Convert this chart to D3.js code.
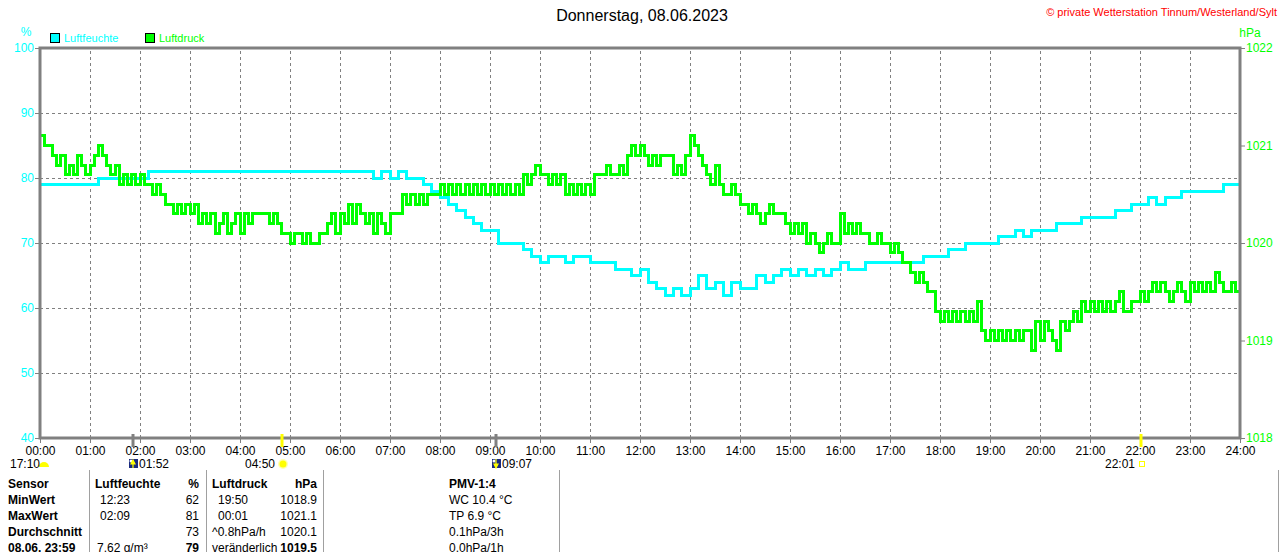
<!DOCTYPE html>
<html>
<head>
<meta charset="utf-8">
<script src="https://cdn.jsdelivr.net/npm/d3@7"></script>
<style>
  html, body { margin: 0; padding: 0; background: #fff; }
  svg { display: block; font-family: "Liberation Sans", Arial, sans-serif; }
  .grid line { stroke: #808080; stroke-dasharray: 3,3; shape-rendering: crispEdges; }
  .grid .domain { display: none; }
</style>
</head>
<body>
<svg id="chart" width="1280" height="552"></svg>
<script>
// --- data ---
const hourLabels = ["00:00","01:00","02:00","03:00","04:00","05:00","06:00","07:00","08:00","09:00","10:00","11:00","12:00",
  "13:00","14:00","15:00","16:00","17:00","18:00","19:00","20:00","21:00","22:00","23:00","24:00"];
const humidityTicks = [40, 50, 60, 70, 80, 90, 100];
const pressureTicks = [1018, 1019, 1020, 1021, 1022];

// Luftfeuchte %, one reading every 10 minutes (00:00 .. 24:00), one row per 2 hours
const humidityStepMin = 10;
const humidity = [
  79,79,79,79,79,79, 79,80,80,80,80,80,
  80,81,81,81,81,81, 81,81,81,81,81,81,
  81,81,81,81,81,81, 81,81,81,81,81,81,
  81,81,81,81,80,81, 80,81,80,80,79,78,
  77,76,75,74,73,72, 72,70,70,70,69,68,
  67,68,68,67,68,68, 67,67,67,66,66,65,
  66,64,63,62,63,62, 63,65,63,64,62,64,
  63,63,65,64,65,66, 65,66,65,66,65,66,
  67,66,66,67,67,67, 67,67,67,67,68,68,
  68,69,69,70,70,70, 70,71,71,72,71,72,
  72,72,73,73,73,74, 74,74,74,75,75,76,
  76,77,76,77,77,78, 78,78,78,78,79,79,
  79
];

// Luftdruck hPa, one reading every 5 minutes (00:00 .. 24:00), one row per hour
const pressureStepMin = 5;
const pressure = [
  1021.1,1021.0,1021.0,1020.9,1020.8,1020.9,1020.7,1020.8,1020.7,1020.9,1020.8,1020.7,
  1020.8,1020.9,1021.0,1020.9,1020.8,1020.7,1020.8,1020.6,1020.7,1020.6,1020.7,1020.6,
  1020.7,1020.6,1020.6,1020.5,1020.6,1020.5,1020.4,1020.4,1020.3,1020.4,1020.3,1020.4,
  1020.3,1020.4,1020.2,1020.3,1020.2,1020.3,1020.1,1020.2,1020.3,1020.1,1020.2,1020.3,
  1020.1,1020.3,1020.2,1020.3,1020.3,1020.3,1020.3,1020.2,1020.3,1020.2,1020.1,1020.1,
  1020.0,1020.1,1020.1,1020.0,1020.1,1020.0,1020.0,1020.1,1020.1,1020.2,1020.3,1020.1,
  1020.3,1020.2,1020.4,1020.2,1020.4,1020.3,1020.2,1020.3,1020.1,1020.3,1020.2,1020.1,
  1020.3,1020.3,1020.3,1020.5,1020.4,1020.5,1020.4,1020.5,1020.4,1020.5,1020.5,1020.5,
  1020.6,1020.5,1020.6,1020.5,1020.6,1020.5,1020.6,1020.5,1020.6,1020.5,1020.6,1020.5,
  1020.6,1020.5,1020.6,1020.5,1020.6,1020.5,1020.6,1020.5,1020.7,1020.6,1020.7,1020.8,
  1020.7,1020.7,1020.6,1020.7,1020.6,1020.7,1020.5,1020.6,1020.5,1020.6,1020.5,1020.6,
  1020.5,1020.7,1020.7,1020.7,1020.8,1020.7,1020.7,1020.8,1020.7,1020.9,1021.0,1020.9,
  1021.0,1020.9,1020.8,1020.9,1020.8,1020.9,1020.9,1020.9,1020.7,1020.8,1020.7,1020.9,
  1021.1,1021.0,1020.9,1020.8,1020.7,1020.6,1020.8,1020.6,1020.5,1020.5,1020.6,1020.5,
  1020.4,1020.4,1020.3,1020.4,1020.3,1020.2,1020.3,1020.4,1020.3,1020.3,1020.3,1020.2,
  1020.1,1020.2,1020.1,1020.2,1020.0,1020.1,1020.0,1019.9,1020.0,1020.1,1020.0,1020.0,
  1020.3,1020.1,1020.2,1020.1,1020.2,1020.1,1020.1,1020.0,1020.0,1020.1,1020.0,1020.0,
  1019.9,1020.0,1019.9,1019.8,1019.8,1019.7,1019.6,1019.7,1019.6,1019.5,1019.5,1019.3,
  1019.2,1019.3,1019.2,1019.3,1019.2,1019.3,1019.2,1019.3,1019.2,1019.4,1019.1,1019.0,
  1019.1,1019.0,1019.1,1019.0,1019.1,1019.0,1019.1,1019.0,1019.1,1019.1,1018.9,1019.2,
  1019.0,1019.2,1019.1,1019.0,1018.9,1019.2,1019.1,1019.2,1019.3,1019.2,1019.4,1019.3,
  1019.4,1019.3,1019.4,1019.3,1019.4,1019.3,1019.4,1019.5,1019.3,1019.3,1019.4,1019.4,
  1019.5,1019.4,1019.5,1019.6,1019.5,1019.6,1019.5,1019.4,1019.5,1019.6,1019.5,1019.4,
  1019.6,1019.5,1019.6,1019.5,1019.6,1019.5,1019.7,1019.6,1019.5,1019.5,1019.6,1019.5,
  1019.5
];

// sun / moon events below the time axis
const eventLabels  = ["17:10", "01:52", "04:50", "09:07", "22:01"];
const eventMinutes = [0, 112, 290, 547, 1321];
const eventKinds   = ["moonsetPrev", "moonrise", "sunrise", "moonset", "sunset"];

// summary table
const tableRowLabels = ["Sensor", "MinWert", "MaxWert", "Durchschnitt", "08.06. 23:59"];
const humTimes  = ["Luftfeuchte", "12:23", "02:09", "", "7.62 g/m³"];
const humVals   = ["%", "62", "81", "73", "79"];
const presTimes = ["Luftdruck", "19:50", "00:01", "^0.8hPa/h", "veränderlich"];
const presVals  = ["hPa", "1018.9", "1021.1", "1020.1", "1019.5"];
const pmvTexts  = ["PMV-1:4", "WC 10.4 °C", "TP 6.9 °C", "0.1hPa/3h", "0.0hPa/1h"];

// --- layout ---
const CYAN = "#00ffff", GREEN = "#00ff00", GREY = "#808080";
const plot = { left: 40, right: 1240, top: 48, bottom: 438 };

const svg = d3.select("#chart");

const x  = d3.scaleLinear().domain([0, 1440]).range([plot.left, plot.right]);
const yH = d3.scaleLinear().domain([40, 100]).range([plot.bottom, plot.top]);
const yP = d3.scaleLinear().domain([1018, 1022]).range([plot.bottom, plot.top]);

// grid
svg.append("g").attr("class", "grid")
  .attr("transform", `translate(0,${plot.bottom})`)
  .call(d3.axisBottom(x).tickValues(d3.range(60, 1440, 60)).tickSize(-(plot.bottom - plot.top)).tickFormat(""));
svg.append("g").attr("class", "grid")
  .attr("transform", `translate(${plot.left},0)`)
  .call(d3.axisLeft(yH).tickValues(humidityTicks.slice(1, -1)).tickSize(-(plot.right - plot.left)).tickFormat(""));

// lines
const hData = humidity.map((v, i) => ({ t: i * humidityStepMin, v }));
const pData = pressure.map((v, i) => ({ t: i * pressureStepMin, v }));

svg.append("path").datum(hData)
  .attr("fill", "none").attr("stroke", CYAN).attr("stroke-width", 3)
  .attr("stroke-linejoin", "miter").attr("shape-rendering", "crispEdges")
  .attr("d", d3.line().curve(d3.curveStepAfter).x(d => x(d.t)).y(d => yH(d.v)));

svg.append("path").datum(pData)
  .attr("fill", "none").attr("stroke", GREEN).attr("stroke-width", 3)
  .attr("stroke-linejoin", "miter").attr("shape-rendering", "crispEdges")
  .attr("d", d3.line().curve(d3.curveStepAfter).x(d => x(d.t)).y(d => yP(d.v)));

// frame
svg.append("rect")
  .attr("x", plot.left).attr("y", plot.top)
  .attr("width", plot.right - plot.left).attr("height", plot.bottom - plot.top)
  .attr("fill", "none").attr("stroke", GREY).attr("stroke-width", 3);

// axes
function styleAxis(g, color) {
  g.select(".domain").remove();
  g.selectAll(".tick line").attr("stroke", GREY);
  g.selectAll(".tick text").attr("fill", color).style("font-size", "12px")
    .style("font-family", "'Liberation Sans', Arial, sans-serif");
}

svg.append("g")
  .attr("transform", `translate(0,${plot.bottom})`)
  .call(d3.axisBottom(x).tickValues(d3.range(0, 1441, 60)).tickSize(5).tickPadding(3)
    .tickFormat((d, i) => hourLabels[i]))
  .call(g => styleAxis(g, "#000"));

svg.append("g")
  .attr("transform", `translate(${plot.left},0)`)
  .call(d3.axisLeft(yH).tickValues(humidityTicks).tickSize(5).tickPadding(1).tickFormat(d3.format("d")))
  .call(g => styleAxis(g, CYAN));

svg.append("g")
  .attr("transform", `translate(${plot.right},0)`)
  .call(d3.axisRight(yP).tickValues(pressureTicks).tickSize(5).tickPadding(1).tickFormat(d3.format("d")))
  .call(g => styleAxis(g, GREEN));

// unit labels
svg.append("text").attr("x", 26).attr("y", 36).attr("text-anchor", "middle")
  .attr("fill", CYAN).style("font-size", "12px").text("%");
svg.append("text").attr("x", 1250).attr("y", 37).attr("text-anchor", "middle")
  .attr("fill", GREEN).style("font-size", "12px").text("hPa");

// legend
const legend = [{ name: "Luftfeuchte", color: CYAN, x: 50 }, { name: "Luftdruck", color: GREEN, x: 145 }];
legend.forEach(l => {
  svg.append("rect").attr("x", l.x + 0.5).attr("y", 33.5).attr("width", 9).attr("height", 9)
    .attr("fill", l.color).attr("stroke", "#000");
  svg.append("text").attr("x", l.x + 14).attr("y", 42).attr("fill", l.color)
    .style("font-size", "11px").text(l.name);
});

// title + copyright
svg.append("text").attr("x", 642).attr("y", 21).attr("text-anchor", "middle")
  .style("font-size", "16px").attr("fill", "#000").text("Donnerstag, 08.06.2023");
svg.append("text").attr("x", 1277).attr("y", 16).attr("text-anchor", "end")
  .style("font-size", "11px").attr("fill", "#ff0000")
  .text("© private Wetterstation Tinnum/Westerland/Sylt");

// sun / moon events
const ev = svg.append("g");
eventMinutes.forEach((m, i) => {
  const ex = Math.round(x(m));
  const kind = eventKinds[i];
  if (kind === "moonrise" || kind === "moonset") {
    ev.append("line").attr("x1", ex).attr("x2", ex).attr("y1", 434).attr("y2", 447)
      .attr("stroke", GREY).attr("stroke-width", 3);
    ev.append("rect").attr("x", ex - 4).attr("y", 459).attr("width", 9).attr("height", 9).attr("fill", "#1a2a80");
    ev.append("circle").attr("cx", ex - 2).attr("cy", 461).attr("r", 1.5).attr("fill", "#fff");
    const up = kind === "moonrise";
    ev.append("path")
      .attr("d", up ? `M${ex},460 L${ex - 2},464 L${ex + 2},464 Z M${ex},464 L${ex},468`
                    : `M${ex},468 L${ex - 2},464 L${ex + 2},464 Z M${ex},459 L${ex},464`)
      .attr("fill", "#ffff00").attr("stroke", "#ffff00").attr("stroke-width", 1.2);
    ev.append("text").attr("x", ex + 6).attr("y", 468).style("font-size", "12px").text(eventLabels[i]);
  } else if (kind === "sunrise") {
    ev.append("line").attr("x1", ex).attr("x2", ex).attr("y1", 434).attr("y2", 447)
      .attr("stroke", "#ffff00").attr("stroke-width", 3);
    ev.append("circle").attr("cx", ex + 1).attr("cy", 464).attr("r", 5).attr("fill", "#ffffb0");
    ev.append("circle").attr("cx", ex + 1).attr("cy", 464).attr("r", 3.5).attr("fill", "#ffff00");
    ev.append("text").attr("x", ex - 7).attr("y", 468).attr("text-anchor", "end")
      .style("font-size", "12px").text(eventLabels[i]);
  } else if (kind === "sunset") {
    ev.append("line").attr("x1", ex).attr("x2", ex).attr("y1", 434).attr("y2", 447)
      .attr("stroke", "#ffff00").attr("stroke-width", 3);
    ev.append("rect").attr("x", ex - 1.5).attr("y", 461.5).attr("width", 5).attr("height", 5)
      .attr("fill", "none").attr("stroke", "#ffff00");
    ev.append("text").attr("x", ex - 6).attr("y", 468).attr("text-anchor", "end")
      .style("font-size", "12px").text(eventLabels[i]);
  } else {
    ev.append("path").attr("d", d3.arc()({ innerRadius: 0, outerRadius: 5, startAngle: -Math.PI / 2, endAngle: Math.PI / 2 }))
      .attr("transform", `translate(${ex + 4},467)`).attr("fill", "#ffff00");
    ev.append("text").attr("x", 10).attr("y", 468).style("font-size", "12px").text(eventLabels[i]);
  }
});

// summary table
const table = svg.append("g").style("font-size", "12px").attr("fill", "#000");
[89, 206, 323, 559, 1278].forEach(sx => {
  table.append("line").attr("x1", sx + 0.5).attr("x2", sx + 0.5).attr("y1", 470).attr("y2", 552)
    .attr("stroke", "#a0a0a0");
});
tableRowLabels.forEach((label, r) => {
  const ty = 488 + r * 16;
  const head = r === 0;
  const last = r === tableRowLabels.length - 1;
  table.append("text").attr("x", 8).attr("y", ty).style("font-weight", "bold").text(label);
  table.append("text").attr("x", head ? 95 : (last ? 97 : 100)).attr("y", ty)
    .style("font-weight", head ? "bold" : "normal").text(humTimes[r]);
  table.append("text").attr("x", 199).attr("y", ty).attr("text-anchor", "end")
    .style("font-weight", head || last ? "bold" : "normal").text(humVals[r]);
  table.append("text").attr("x", head || r > 2 ? 212 : 218).attr("y", ty)
    .style("font-weight", head ? "bold" : "normal").text(presTimes[r]);
  table.append("text").attr("x", 317).attr("y", ty).attr("text-anchor", "end")
    .style("font-weight", head || last ? "bold" : "normal").text(presVals[r]);
  table.append("text").attr("x", 449).attr("y", ty)
    .style("font-weight", head ? "bold" : "normal").text(pmvTexts[r]);
});
</script>
</body>
</html>
